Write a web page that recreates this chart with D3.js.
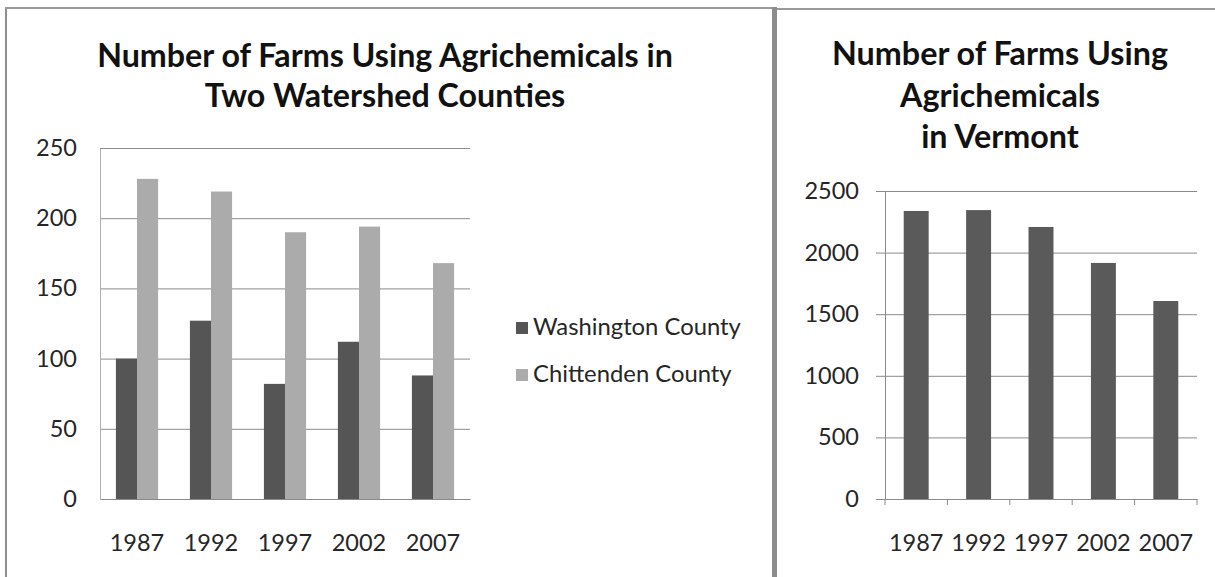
<!DOCTYPE html>
<html>
<head>
<meta charset="utf-8">
<script src="https://cdn.jsdelivr.net/npm/d3@7"></script>
<style>
  html, body { margin: 0; padding: 0; background: #fff; }
  svg { display: block; font-family: Lato, "Open Sans", sans-serif; }
</style>
</head>
<body>
<svg id="chart" width="1215" height="577"></svg>
<script>
// Census years shared by both charts
const years = ["1987", "1992", "1997", "2002", "2007"];

// Farms using agrichemicals, by county
const seriesNames = ["Washington County", "Chittenden County"];
const washington = [100, 127, 82, 112, 88];
const chittenden = [228, 219, 190, 194, 168];

// Farms using agrichemicals, statewide
const vermont = [2338, 2345, 2208, 1916, 1607];

// Axis ticks
const countyTicks = [0, 50, 100, 150, 200, 250];
const stateTicks = [0, 500, 1000, 1500, 2000, 2500];

// Titles
const countyTitle = ["Number of Farms Using Agrichemicals in", "Two Watershed Counties"];
const stateTitle = ["Number of Farms Using", "Agrichemicals", "in Vermont"];

const colors = { washington: "#555555", chittenden: "#ababab", vermont: "#5a5a5a" };
const gridColor = "#8a8a8a";
const textColor = "#262626";
const tickFont = 23.5;

const svg = d3.select("#chart");

// Panel frames
svg.append("line").attr("x1", 6).attr("x2", 6).attr("y1", 7).attr("y2", 577)
  .attr("stroke", "#8f8f8f").attr("stroke-width", 2);
svg.append("line").attr("x1", 5).attr("x2", 775).attr("y1", 8).attr("y2", 8)
  .attr("stroke", "#9a9a9a").attr("stroke-width", 2);
svg.append("line").attr("x1", 775).attr("x2", 1215).attr("y1", 9).attr("y2", 9)
  .attr("stroke", "#9a9a9a").attr("stroke-width", 2);
svg.append("rect").attr("x", 772).attr("y", 7).attr("width", 5).attr("height", 570)
  .attr("fill", "#8c8c8c");

// Fit a title's font size so its first line spans the given width
function drawTitle(lines, cx, baselines, targetWidth) {
  const g = svg.append("g");
  const texts = g.selectAll("text").data(lines).join("text")
    .attr("x", cx).attr("y", (d, i) => baselines[i])
    .attr("text-anchor", "middle")
    .attr("font-weight", "bold")
    .attr("fill", "#111")
    .attr("font-size", 28)
    .text(d => d);
  const w = texts.nodes()[0].getComputedTextLength();
  texts.attr("font-size", 28 * targetWidth / w);
}

drawTitle(countyTitle, 385, [67, 107], 576);
drawTitle(stateTitle, 1000, [65, 107, 148], 336);

function styleTickText(g) {
  g.selectAll("text")
    .attr("font-size", tickFont)
    .attr("fill", textColor)
    .attr("font-family", "Lato, sans-serif");
}

// ---------- County chart ----------
const L = { left: 100, right: 470, top: 148, bottom: 499 };

const x0 = d3.scaleBand().domain(years).range([L.left, L.right])
  .paddingInner(0.43).paddingOuter(0.215);
const x1 = d3.scaleBand().domain(seriesNames).range([0, x0.bandwidth()]);
const yL = d3.scaleLinear().domain([0, 250]).range([L.bottom, L.top]);

// Gridlines
svg.append("g")
  .attr("transform", `translate(${L.left},0)`)
  .call(d3.axisLeft(yL).tickValues(countyTicks.slice(1)).tickSize(-(L.right - L.left)).tickFormat(""))
  .call(g => g.select(".domain").remove())
  .call(g => g.selectAll("line").attr("stroke", gridColor));

// Bars
const countyRows = years.map((yr, i) => ({ year: yr, values: [
  { name: seriesNames[0], value: washington[i], color: colors.washington },
  { name: seriesNames[1], value: chittenden[i], color: colors.chittenden }
]}));

svg.append("g").selectAll("g").data(countyRows).join("g")
  .attr("transform", d => `translate(${x0(d.year)},0)`)
  .selectAll("rect").data(d => d.values).join("rect")
  .attr("x", d => x1(d.name))
  .attr("width", x1.bandwidth())
  .attr("y", d => yL(d.value))
  .attr("height", d => yL(0) - yL(d.value))
  .attr("fill", d => d.color);

// Value axis
svg.append("g")
  .attr("transform", `translate(${L.left},0)`)
  .call(d3.axisLeft(yL).tickValues(countyTicks).tickSize(0).tickPadding(23))
  .call(g => g.select(".domain").attr("stroke", "#b0b0b0"))
  .call(styleTickText);

// Category axis
svg.append("g")
  .attr("transform", `translate(0,${L.bottom})`)
  .call(d3.axisBottom(x0).tickSize(0).tickPadding(35))
  .call(g => g.select(".domain").attr("stroke", "#8a8a8a"))
  .call(styleTickText);

// Legend
const legendColors = [colors.washington, colors.chittenden];
const legend = svg.append("g").selectAll("g").data(seriesNames).join("g")
  .attr("transform", (d, i) => `translate(516,${328 + i * 47})`);
legend.append("rect").attr("x", 0).attr("y", -6).attr("width", 12).attr("height", 12)
  .attr("fill", (d, i) => legendColors[i]);
const legendText = legend.append("text").attr("x", 17).attr("y", 7)
  .attr("font-size", 20).attr("fill", textColor).text(d => d);
const lw = legendText.nodes()[0].getComputedTextLength();
legendText.attr("font-size", 20 * 208 / lw);

// ---------- State chart ----------
const R = { left: 885, right: 1197, top: 191, bottom: 499 };

const xR = d3.scaleBand().domain(years).range([R.left, R.right])
  .paddingInner(0.6).paddingOuter(0.3);
const yR = d3.scaleLinear().domain([0, 2500]).range([R.bottom, R.top]);

// Gridlines
svg.append("g")
  .attr("transform", `translate(${R.left},0)`)
  .call(d3.axisLeft(yR).tickValues(stateTicks.slice(1)).tickSize(-(R.right - R.left)).tickFormat(""))
  .call(g => g.select(".domain").remove())
  .call(g => g.selectAll("line").attr("stroke", gridColor));

// Bars
svg.append("g").selectAll("rect").data(years).join("rect")
  .attr("x", d => xR(d))
  .attr("width", xR.bandwidth())
  .attr("y", (d, i) => yR(vermont[i]))
  .attr("height", (d, i) => yR(0) - yR(vermont[i]))
  .attr("fill", colors.vermont);

// Value axis with outward ticks
svg.append("g")
  .attr("transform", `translate(${R.left},0)`)
  .call(d3.axisLeft(yR).tickValues(stateTicks).tickFormat(d3.format("d")).tickSize(9).tickPadding(17))
  .call(g => g.select(".domain").attr("stroke", "#8a8a8a"))
  .call(g => g.selectAll("line").attr("stroke", gridColor))
  .call(styleTickText);

// Category axis: labels centred on bars, tick marks between categories
svg.append("g")
  .attr("transform", `translate(0,${R.bottom})`)
  .call(d3.axisBottom(xR).tickSize(0).tickPadding(35))
  .call(g => g.select(".domain").attr("stroke", "#8a8a8a"))
  .call(styleTickText);

const boundaries = d3.range(years.length + 1).map(i => R.left + i * (R.right - R.left) / years.length);
svg.append("g").selectAll("line").data(boundaries).join("line")
  .attr("x1", d => d).attr("x2", d => d)
  .attr("y1", R.bottom).attr("y2", R.bottom + 6)
  .attr("stroke", "#8a8a8a");
</script>
</body>
</html>
